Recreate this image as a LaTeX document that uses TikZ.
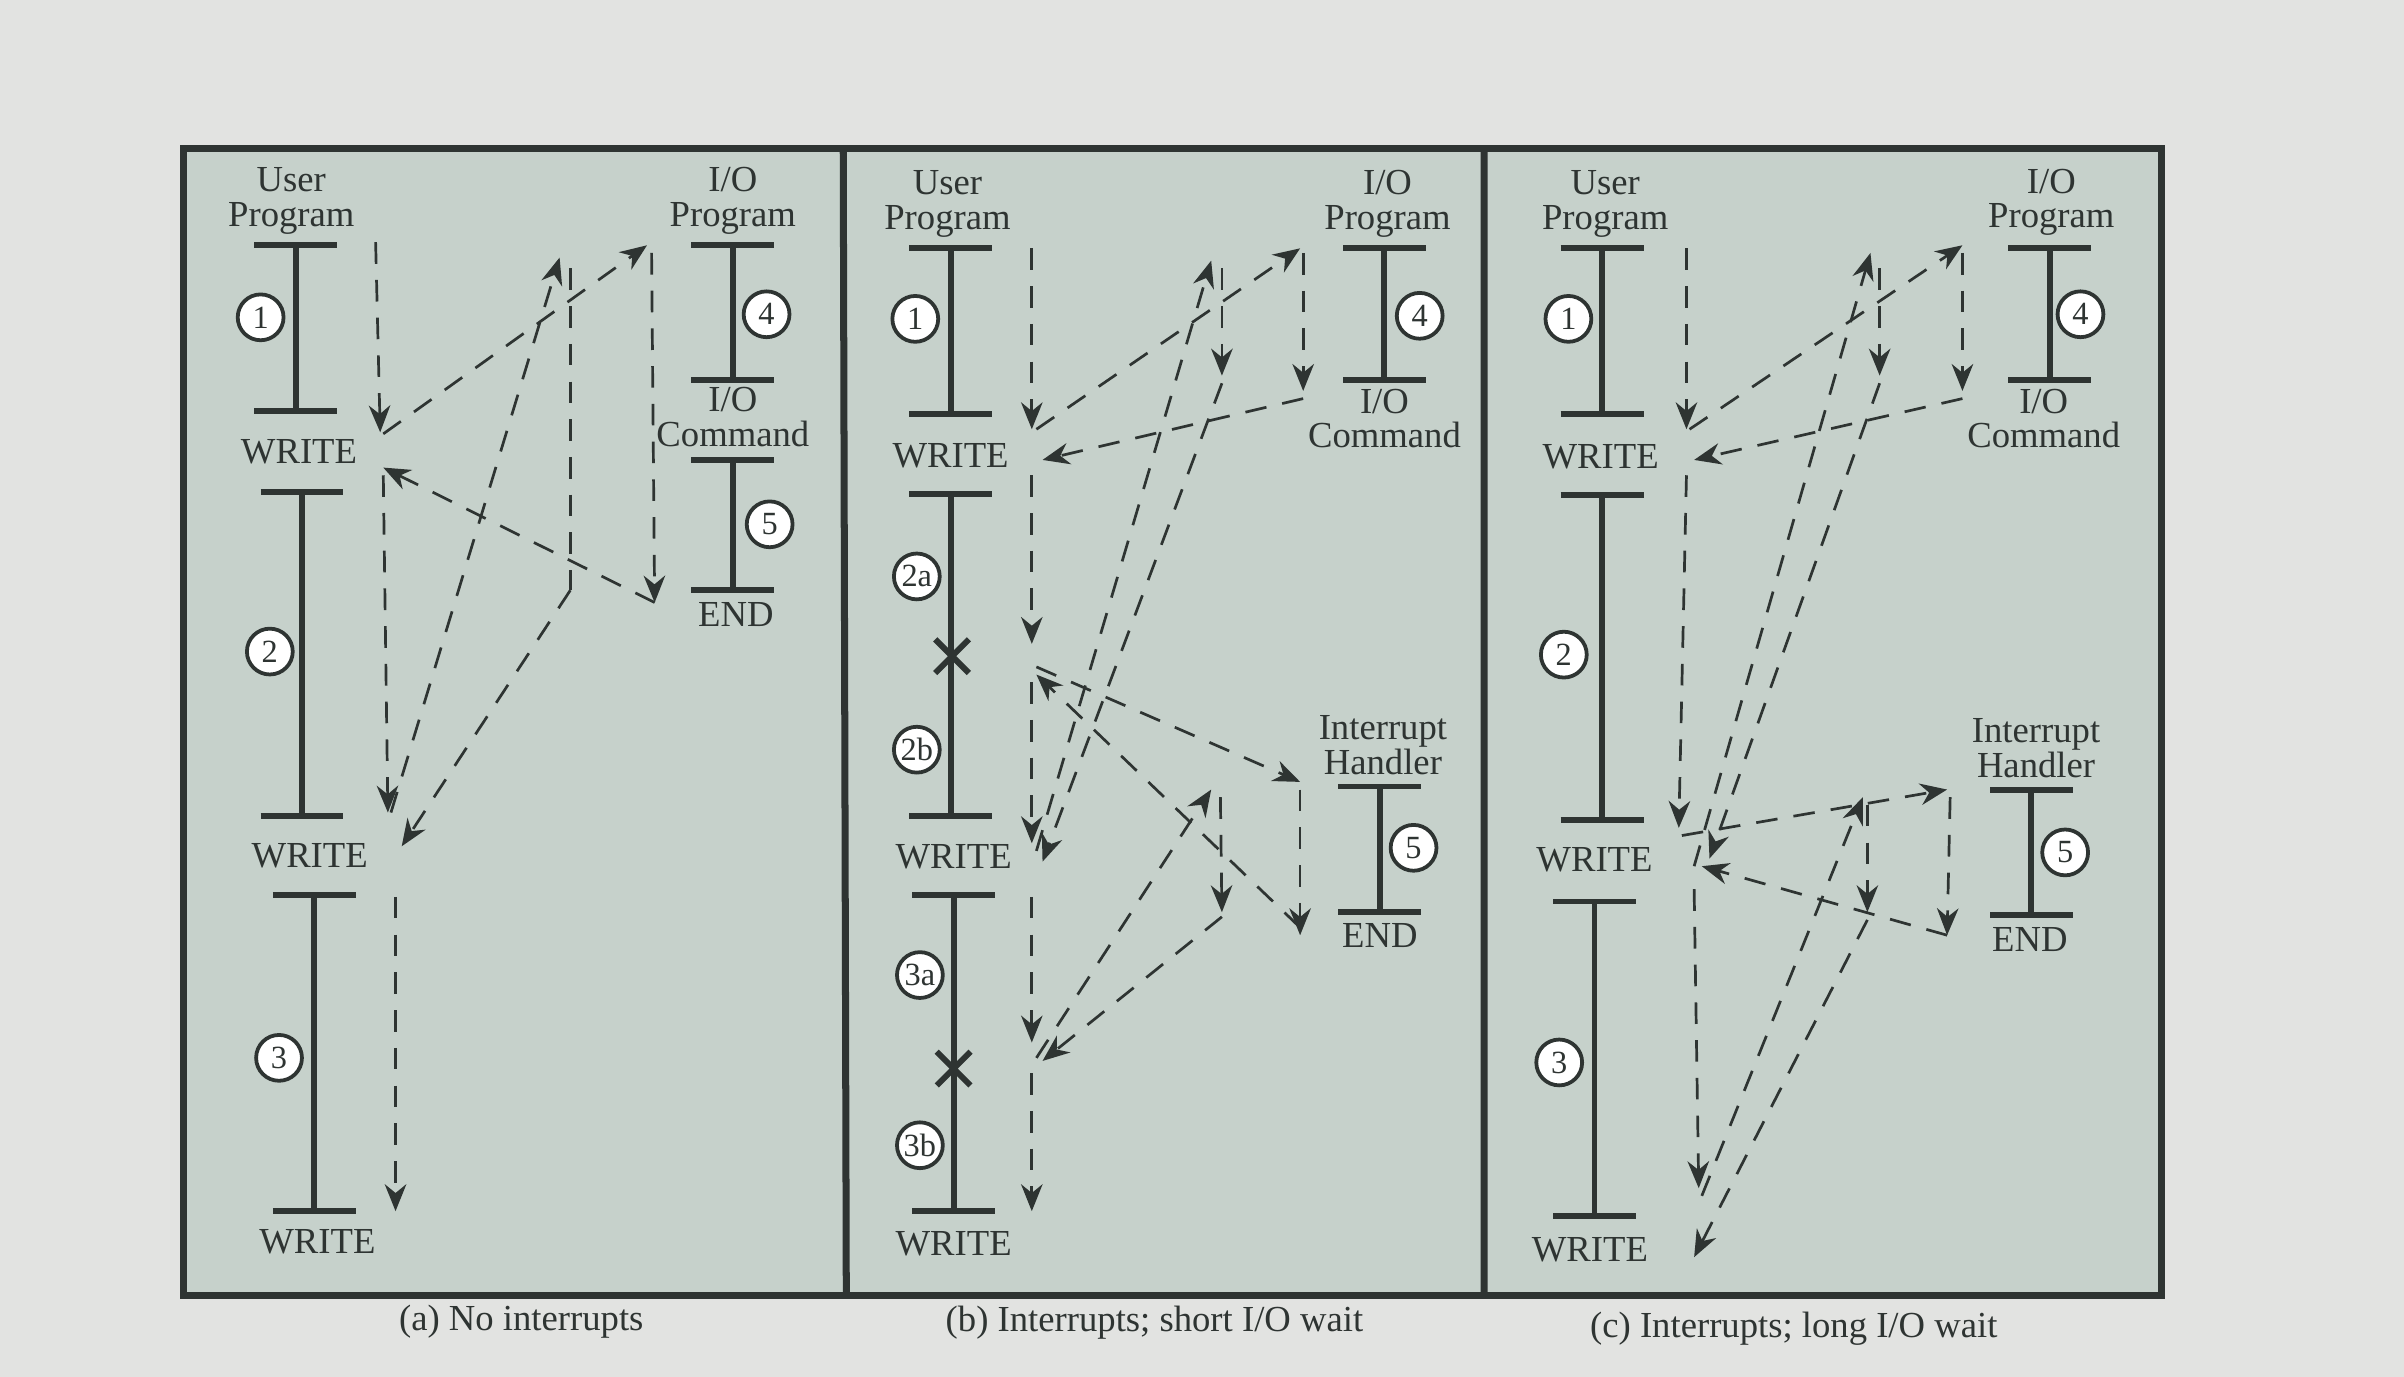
\documentclass[tikz,border=0pt]{standalone}
\usepackage{fontspec}
\setmainfont{Liberation Serif}
\usetikzlibrary{arrows.meta}
\definecolor{bg}{HTML}{E2E3E1}
\definecolor{panel}{HTML}{C6D1CB}
\definecolor{ink}{HTML}{2E3432}
\newcommand\flowarr[4]{\coordinate (fs) at (#1,#2);\coordinate (fe) at (#3,#4);\draw[flow] (fs) -- (fe);}
\newcommand\seg[3]{\coordinate (s1) at (#1,#2);\coordinate (s2) at (#1,#3);\draw[bar] (s1)--(s2);
 \draw[bar] ([xshift=-0.27cm]s1)--([xshift=0.27cm]s1); \draw[bar] ([xshift=-0.27cm]s2)--([xshift=0.27cm]s2);}
\tikzset{
 flow/.style={ink,dash pattern=on 4pt off 3pt,line width=0.5pt,-{Stealth[length=5pt,width=4pt]}},
 bar/.style={ink,line width=1.1pt},
 lbl/.style={text=ink,font=\fontsize{6.8}{6.4}\selectfont,align=center,inner sep=0},
 num/.style={circle,draw=ink,fill=white,line width=0.7pt,inner sep=0.3pt,minimum size=8.5pt,font=\fontsize{6}{6}\selectfont,text=ink},
 captxt/.style={text=ink,font=\fontsize{6.8}{6.8}\selectfont,inner sep=0}
}
\begin{document}
\begin{tikzpicture}[x=0.01cm,y=-0.01cm]
\useasboundingbox (0,0) rectangle (1568,898);
\fill[bg] (0,0) rectangle (1568,898);
\fill[panel] (120,97) rectangle (1410,845);
\draw[ink,line width=1.3pt] (120,97) rectangle (1410,845);
\draw[ink,line width=1.3pt] (550,97)--(552,845) (968,97)--(968,845);
% (a)
\node[lbl] (ua) at (190,131) {User\\Program};
\seg{193}{160}{268}\node[num] (a1) at (170,207) {1};
\node[lbl] (wa1) at (195,295) {WRITE};
\seg{197}{321}{532}\node[num] (a2) at (176,425) {2};
\node[lbl] (wa2) at (202,558) {WRITE};
\seg{205}{584}{790}\node[num] (a3) at (182,690) {3};
\node[lbl] (wa3) at (207,810) {WRITE};
\node[lbl] (ia) at (478,131) {I/O\\Program};
\seg{478}{160}{248}\node[num] (a4) at (500,205) {4};
\node[lbl] (ca) at (478,272) {I/O\\Command};
\seg{478}{300}{385}\node[num] (a5) at (502,342) {5};
\node[lbl] (ea) at (480,401) {END};
\flowarr{245}{158}{248}{282}
\flowarr{250}{283}{422}{160}
\flowarr{425}{165}{427}{393}
\flowarr{427}{393}{250}{305}
\flowarr{250}{310}{253}{530}
\flowarr{255}{530}{365}{168}
\coordinate (v1) at (372,175);\coordinate (v2) at (372,385);
\draw[flow,-] (v1)--(v2);
\flowarr{372}{385}{262}{552}
\flowarr{258}{585}{258}{790}
% (b)
\node[lbl] (ub) at (618,133) {User\\Program};
\seg{620}{162}{270}\node[num] (b1) at (597,208) {1};
\node[lbl] (wb1) at (620,297) {WRITE};
\seg{620}{322}{532}\node[num] (b2a) at (598,376) {2a};
\node[num] (b2b) at (598,489) {2b};
\node[lbl] (wb2) at (622,559) {WRITE};
\seg{622}{584}{790}\node[num] (b3a) at (600,636) {3a};
\node[num] (b3b) at (600,747) {3b};
\node[lbl] (wb3) at (622,811) {WRITE};
\draw[ink,line width=1.1pt] (610,417)--(632,439) (610,439)--(632,417);
\draw[ink,line width=1.1pt] (611,686)--(633,708) (611,708)--(633,686);
\node[lbl] (ib) at (905,133) {I/O\\Program};
\seg{903}{162}{248}\node[num] (b4) at (926,206) {4};
\node[lbl] (cb) at (903,273) {I/O\\Command};
\node[lbl] (hb) at (902,486) {Interrupt\\Handler};
\seg{900}{513}{595}\node[num] (b5) at (922,553) {5};
\node[lbl] (eb) at (900,610) {END};
\flowarr{673}{162}{673}{280}
\flowarr{676}{280}{848}{162}
\flowarr{850}{165}{850}{255}
\flowarr{850}{260}{680}{300}
\flowarr{673}{310}{673}{420}
\flowarr{676}{435}{848}{510}
\flowarr{848}{515}{848}{610}
\flowarr{848}{605}{676}{440}
\flowarr{673}{445}{673}{550}
\flowarr{676}{555}{790}{170}
\flowarr{797}{175}{797}{245}
\flowarr{797}{250}{680}{562}
\flowarr{673}{585}{673}{680}
\flowarr{676}{690}{790}{515}
\flowarr{796}{520}{797}{595}
\flowarr{797}{598}{680}{692}
\flowarr{673}{700}{673}{790}
% (c)
\node[lbl] (uc) at (1047,133) {User\\Program};
\seg{1045}{162}{270}\node[num] (c1) at (1023,208) {1};
\node[lbl] (wc1) at (1044,298) {WRITE};
\seg{1045}{323}{535}\node[num] (c2) at (1020,427) {2};
\node[lbl] (wc2) at (1040,561) {WRITE};
\seg{1040}{588}{793}\node[num] (c3) at (1017,693) {3};
\node[lbl] (wc3) at (1037,815) {WRITE};
\node[lbl] (ic) at (1338,132) {I/O\\Program};
\seg{1337}{162}{248}\node[num] (c4) at (1357,205) {4};
\node[lbl] (cc) at (1333,273) {I/O\\Command};
\node[lbl] (hc) at (1328,488) {Interrupt\\Handler};
\seg{1325}{515}{597}\node[num] (c5) at (1347,556) {5};
\node[lbl] (ec) at (1324,613) {END};
\flowarr{1100}{162}{1100}{280}
\flowarr{1102}{280}{1280}{160}
\flowarr{1280}{165}{1280}{255}
\flowarr{1280}{260}{1105}{300}
\flowarr{1100}{310}{1095}{540}
\flowarr{1097}{545}{1270}{515}
\flowarr{1272}{520}{1270}{610}
\flowarr{1270}{610}{1110}{565}
\flowarr{1105}{565}{1220}{165}
\flowarr{1226}{175}{1226}{245}
\flowarr{1226}{250}{1115}{560}
\flowarr{1105}{580}{1108}{775}
\flowarr{1110}{780}{1215}{520}
\flowarr{1218}{525}{1218}{595}
\flowarr{1218}{600}{1105}{820}
% captions
\node[captxt] (capa) at (340,862) {(a) No interrupts};
\node[captxt] (capb) at (753,863) {(b) Interrupts; short I/O wait};
\node[captxt] (capc) at (1170,867) {(c) Interrupts; long I/O wait};
\end{tikzpicture}
\end{document}
